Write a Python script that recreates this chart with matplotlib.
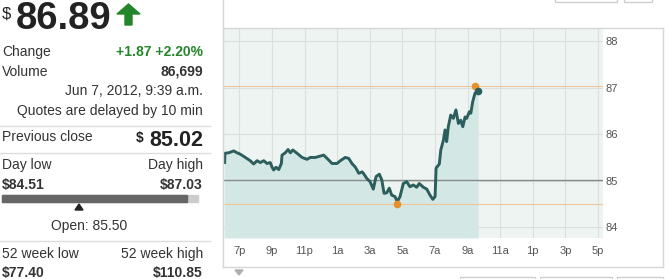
import matplotlib
matplotlib.use("Agg")
import matplotlib.pyplot as plt
from matplotlib.lines import Line2D
from matplotlib.patches import Polygon, Rectangle

plt.rcParams['font.family'] = ['Liberation Sans', 'DejaVu Sans']

# Quote panel values
LAST_PRICE = "86.89"
CHANGE = "+1.87 +2.20%"
VOLUME = "86,699"
QUOTE_TIME = "Jun 7, 2012, 9:39 a.m."
PREV_CLOSE = 85.02
DAY_LOW = 84.51
DAY_HIGH = 87.03
OPEN = 85.50
WEEK52_LOW = 77.40
WEEK52_HIGH = 110.85

# Intraday series: hours since midnight Jun 6 (24+ = Jun 7), price
hours = [18.10, 18.12, 18.35, 18.66, 18.86, 19.06, 19.37, 19.67, 19.88, 20.09,
         20.29, 20.50, 20.70, 20.90, 21.01, 21.11, 21.25, 21.42, 21.58, 21.62,
         21.82, 21.99, 22.13, 22.28, 22.54, 22.85, 23.15, 23.36, 23.66, 23.97,
         24.18, 24.44, 24.69, 24.99, 25.20, 25.50, 25.71, 25.91, 26.12, 26.33,
         26.53, 26.61, 26.82, 27.02, 27.22, 27.39, 27.59, 27.74, 27.88, 28.04,
         28.20, 28.35, 28.55, 28.69, 28.86, 29.06, 29.27, 29.47, 29.67, 29.88,
         30.04, 30.29, 30.50, 30.70, 30.87, 31.01, 31.07, 31.27, 31.36, 31.52,
         31.62, 31.72, 31.82, 31.97, 32.13, 32.29, 32.44, 32.58, 32.71, 32.85,
         32.95, 33.11, 33.20, 33.32, 33.46, 33.57, 33.65]
prices = [85.39, 85.59, 85.60, 85.64, 85.60, 85.57, 85.50, 85.43, 85.36, 85.43,
          85.39, 85.43, 85.37, 85.39, 85.29, 85.23, 85.29, 85.24, 85.37, 85.55,
          85.60, 85.67, 85.60, 85.66, 85.59, 85.50, 85.46, 85.50, 85.50, 85.53,
          85.55, 85.46, 85.37, 85.37, 85.43, 85.50, 85.48, 85.37, 85.29, 85.16,
          85.19, 85.16, 85.05, 84.98, 84.82, 85.09, 85.14, 85.02, 84.73, 84.74,
          84.84, 84.69, 84.66, 84.55, 84.66, 84.94, 84.98, 84.87, 84.91, 84.86,
          84.94, 84.86, 84.82, 84.69, 84.60, 84.66, 85.27, 85.36, 85.66, 85.87,
          86.09, 85.84, 86.16, 86.41, 86.34, 86.52, 86.23, 86.30, 86.16, 86.37,
          86.34, 86.48, 86.45, 86.70, 86.88, 86.91, 86.93]
HIGH_TIME = 33.46
LOW_TIME = 28.69

x_ticks = [19, 21, 23, 25, 27, 29, 31, 33, 35, 37, 39, 41]
x_labels = ['7p', '9p', '11p', '1a', '3a', '5a', '7a', '9a', '11a', '1p', '3p', '5p']
y_ticks = [84, 85, 86, 87, 88]

W, H = 669, 279
TEXT = '#333333'
GREEN = '#24862a'
LINE = '#2b5e5c'
ORANGE = '#e8912c'


def fx(x):
    return x / W


def fy(y):
    return 1 - y / H


fig = plt.figure(figsize=(W / 100, H / 100), dpi=100)
fig.patch.set_facecolor('white')


def hline(x0, x1, y, color='#dddddd', lw=1):
    fig.add_artist(Line2D([fx(x0), fx(x1)], [fy(y), fy(y)], color=color, lw=lw,
                          transform=fig.transFigure))


def vline(x, y0, y1, color='#dddddd', lw=1):
    fig.add_artist(Line2D([fx(x), fx(x)], [fy(y0), fy(y1)], color=color, lw=lw,
                          transform=fig.transFigure))


def txt(x, y, s, ha='left', size=10, weight='normal', color=TEXT, va='center'):
    fig.text(fx(x), fy(y), s, ha=ha, va=va, fontsize=size, fontweight=weight, color=color)


# ---- left quote panel ----
txt(2, 6, '$', size=12, va='top', color='#222222')
txt(16, 19, LAST_PRICE, size=27.5, weight='bold', color='#222222')
arrow = [(125, 25), (125, 14), (117, 14), (128.5, 4), (140, 14), (132, 14), (132, 25)]
fig.add_artist(Polygon([(fx(a), fy(b)) for a, b in arrow], closed=True,
                       color=GREEN, transform=fig.transFigure))

txt(2, 52, 'Change')
txt(203, 52, CHANGE, ha='right', weight='bold', color=GREEN)
txt(2, 72, 'Volume')
txt(203, 72, VOLUME, ha='right', weight='bold')
txt(203, 91, QUOTE_TIME, ha='right')
txt(203, 111, 'Quotes are delayed by 10 min', ha='right')
hline(0, 210, 126)

txt(2, 137, 'Previous close')
txt(203, 140, f'{PREV_CLOSE:.2f}', ha='right', size=15.5, weight='bold', color='#222222')
txt(136, 131, '$', size=10, weight='bold', va='top', color='#222222')
hline(0, 210, 153)

txt(2, 165, 'Day low')
txt(203, 165, 'Day high', ha='right')
txt(2, 185, f'${DAY_LOW:.2f}', weight='bold')
txt(203, 185, f'${DAY_HIGH:.2f}', ha='right', weight='bold')
# day range bar
fig.add_artist(Rectangle((fx(2), fy(202)), fx(198) - fx(2), fy(195) - fy(202),
                         color='#cccccc', transform=fig.transFigure))
fig.add_artist(Rectangle((fx(2), fy(202)), fx(187) - fx(2), fy(195) - fy(202),
                         color='#666666', transform=fig.transFigure))
tri = [(75, 210), (83, 210), (79, 204)]
fig.add_artist(Polygon([(fx(a), fy(b)) for a, b in tri], closed=True,
                       color='#222222', transform=fig.transFigure))
txt(89, 226, f'Open: {OPEN:.2f}', ha='center')
hline(0, 210, 241)

txt(2, 254, '52 week low')
txt(203, 254, '52 week high', ha='right')
txt(2, 273, f'${WEEK52_LOW:.2f}', weight='bold')
txt(203, 273, f'${WEEK52_HIGH:.2f}', ha='right', weight='bold')

# ---- chart frame ----
vline(223, 0, 267, color='#d6d6d6')
hline(223, 663, 28, color='#d6d6d6')
vline(663, 28, 267, color='#d6d6d6')
hline(223, 663, 267, color='#d6d6d6')
tri2 = [(235, 270), (243, 270), (239, 275)]
fig.add_artist(Polygon([(fx(a), fy(b)) for a, b in tri2], closed=True,
                       color='#a9b0b3', transform=fig.transFigure))
for x0, x1 in [(460, 535), (540, 612), (617, 663)]:
    fig.add_artist(Rectangle((fx(x0), fy(290)), fx(x1) - fx(x0), fy(277) - fy(290),
                             fill=False, ec='#cfcfcf', lw=1, transform=fig.transFigure))
for x0, x1 in [(555, 617), (624, 652)]:
    fig.add_artist(Rectangle((fx(x0), fy(1.5)), fx(x1) - fx(x0), fy(-10) - fy(1.5),
                             fill=False, ec='#cfcfcf', lw=1, transform=fig.transFigure))

# ---- price chart ----
ax = fig.add_axes([fx(223), fy(238), fx(603) - fx(223), fy(28) - fy(238)])
ax.set_facecolor('#eef4f1')
ax.set_xlim(18.0, 41.31)
ax.set_ylim(83.77, 88.28)

for t in x_ticks:
    ax.axvline(t, color='#d9e0dd', lw=0.8, zorder=1)
for v in y_ticks:
    ax.axhline(v, color='#d9e0dd', lw=0.8, zorder=1)

ax.fill_between(hours, prices, 83.77, color='#d3e7e5', lw=0, zorder=2)
ax.axhline(PREV_CLOSE, color='#858b8b', lw=1, zorder=3)
ax.axhline(DAY_HIGH, color='#f2c59a', lw=0.8, zorder=3)
ax.axhline(DAY_LOW, color='#f2c59a', lw=0.8, zorder=3)
ax.plot(hours, prices, color=LINE, lw=2.1, zorder=4)
ax.plot([HIGH_TIME], [DAY_HIGH], 'o', color=ORANGE, ms=4.5, zorder=5)
ax.plot([LOW_TIME], [DAY_LOW], 'o', color=ORANGE, ms=4.5, zorder=5)
ax.plot([hours[-1]], [prices[-1]], 'o', color=LINE, ms=4.5, zorder=5)

ax.set_xticks(x_ticks)
ax.set_xticklabels(x_labels)
ax.set_yticks(y_ticks)
ax.yaxis.tick_right()
ax.tick_params(axis='both', length=0, labelsize=8, labelcolor='#555555')
ax.tick_params(axis='x', pad=6)
ax.tick_params(axis='y', pad=2)
for s in ax.spines.values():
    s.set_visible(False)

fig.savefig('out.png', dpi=100)
